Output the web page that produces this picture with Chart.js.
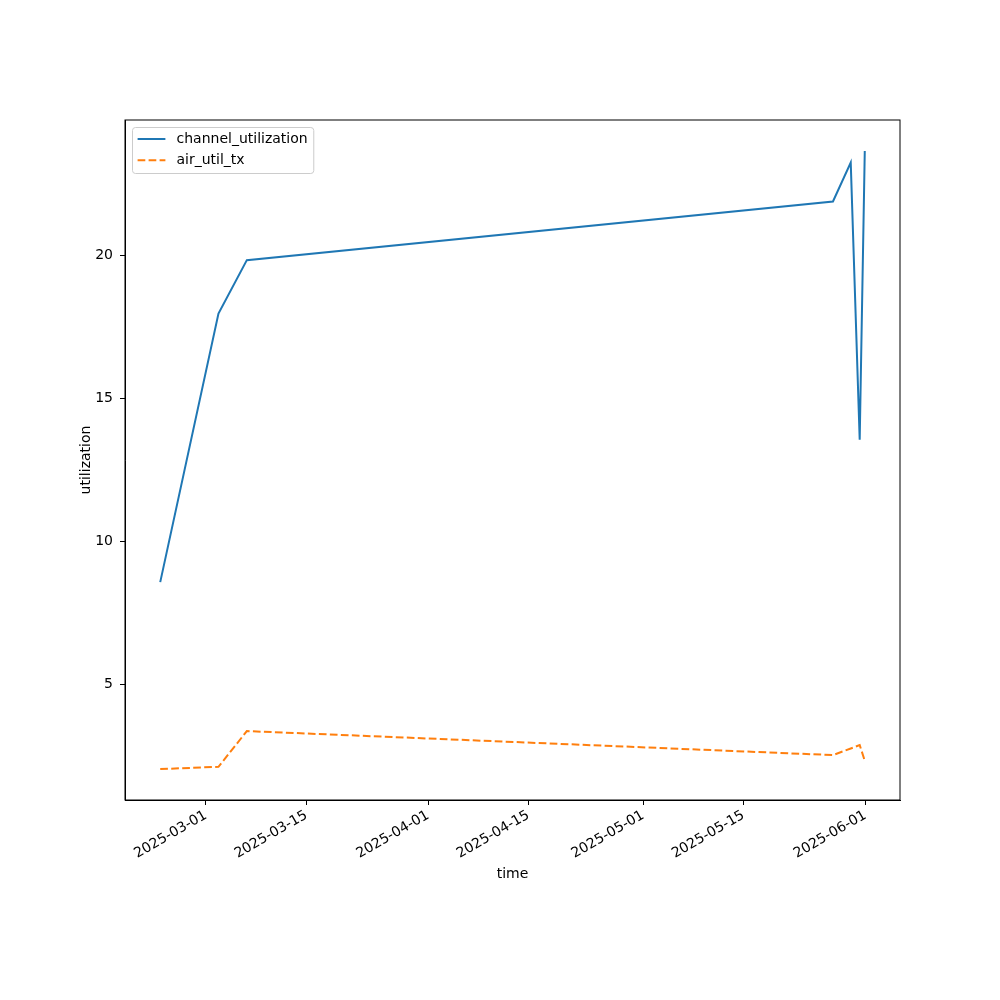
<!DOCTYPE html>
<html>
<head>
<meta charset="utf-8">
<script src="https://cdn.jsdelivr.net/npm/chart.js@4.4.1/dist/chart.umd.min.js"></script>
<style>
  body { margin: 0; background: #fff; }
</style>
</head>
<body>
<canvas id="myChart" width="1000" height="1000"></canvas>
<script>
// sample times (UTC) and readings
const times = ["2025-02-22T15:00", "2025-03-02T18:00", "2025-03-06T17:00", "2025-05-27T11:30", "2025-05-29T23:00", "2025-05-31T05:00", "2025-05-31T22:00"];
const channelUtil = [8.57, 17.96, 19.83, 21.88, 23.24, 13.55, 23.65];
const airUtilTx = [2.03, 2.11, 3.36, 2.52, 2.75, 2.87, 2.32];
const xTickDates = ["2025-03-01", "2025-03-15", "2025-04-01", "2025-04-15", "2025-05-01", "2025-05-15", "2025-06-01"];
const yTicks = [5, 10, 15, 20];

let toMs = (s) => Date.parse(s.length > 10 ? s + ":00Z" : s + "T00:00:00Z");
let xs = times.map(toMs);

// matplotlib style 5% margins
let xMinD = Math.min(...xs), xMaxD = Math.max(...xs);
let xPad = (xMaxD - xMinD) * 0.05;
let allY = channelUtil.concat(airUtilTx);
let yMinD = Math.min(...allY), yMaxD = Math.max(...allY);
let yPad = (yMaxD - yMinD) * 0.05;

const font = { family: "DejaVu Sans", size: 14 };
Chart.defaults.color = "#000";
Chart.defaults.font.family = "DejaVu Sans";

const boxLegend = {
  id: "boxLegend",
  afterDatasetsDraw(chart) {
    const ctx = chart.ctx;
    const area = chart.chartArea;
    ctx.save();
    // axes frame
    ctx.strokeStyle = "#000";
    ctx.lineWidth = 1;
    ctx.strokeRect(area.left, area.top, area.right - area.left, area.bottom - area.top);

    // legend box, upper left
    ctx.font = "14px 'DejaVu Sans'";
    let sets = chart.data.datasets;
    let tw = Math.max(...sets.map((d) => ctx.measureText(d.label).width));
    let x0 = area.left + 7, y0 = area.top + 7;
    let w = 5.6 + 27.8 + 11.1 + tw + 5.6, h = 46;
    ctx.beginPath();
    ctx.roundRect(x0 + 0.5, y0 + 0.5, w, h, 3);
    ctx.fillStyle = "rgba(255,255,255,0.8)";
    ctx.fill();
    ctx.strokeStyle = "#cccccc";
    ctx.stroke();

    sets.forEach((d, i) => {
      let cy = y0 + 12 + i * 21.3;
      ctx.beginPath();
      ctx.setLineDash(d.borderDash || []);
      ctx.strokeStyle = d.borderColor;
      ctx.lineWidth = d.borderWidth;
      ctx.moveTo(x0 + 5.6, cy);
      ctx.lineTo(x0 + 5.6 + 27.8, cy);
      ctx.stroke();
      ctx.setLineDash([]);
      ctx.fillStyle = "#000";
      ctx.textBaseline = "middle";
      ctx.fillText(d.label, x0 + 5.6 + 27.8 + 11.1, cy);
    });
    ctx.restore();
  },
};

let chart1 = document.getElementById("myChart").getContext("2d");
const myChart = new Chart(chart1, {
  type: "line",
  data: {
    datasets: [
      {
        label: "channel_utilization",
        data: xs.map((x, i) => ({ x: x, y: channelUtil[i] })),
        borderColor: "#1f77b4",
        borderWidth: 2,
        pointRadius: 0,
        tension: 0,
        fill: false,
      },
      {
        label: "air_util_tx",
        data: xs.map((x, i) => ({ x: x, y: airUtilTx[i] })),
        borderColor: "#ff7f0e",
        borderWidth: 2,
        borderDash: [7.7, 3.3],
        pointRadius: 0,
        tension: 0,
        fill: false,
      },
    ],
  },
  options: {
    responsive: false,
    animation: false,
    layout: {
      padding: { left: 74, right: 100, top: 120, bottom: 113 },
    },
    plugins: {
      legend: { display: false },
      tooltip: { enabled: false },
    },
    scales: {
      x: {
        type: "linear",
        min: xMinD - xPad,
        max: xMaxD + xPad,
        afterBuildTicks: (scale) => {
          scale.ticks = xTickDates.map((d) => ({ value: toMs(d) }));
        },
        afterFit: (scale) => {
          scale.height = 1000 - 113 - 800;
        },
        grid: { drawOnChartArea: false, color: "#000", tickLength: 5 },
        border: { color: "#000", width: 1 },
        ticks: {
          minRotation: 30,
          maxRotation: 30,
          autoSkip: false,
          padding: 2,
          font: font,
          callback: (v) => new Date(v).toISOString().slice(0, 10),
        },
        title: { display: true, text: "time", font: font, padding: { top: 0, bottom: 4 } },
      },
      y: {
        type: "linear",
        min: yMinD - yPad,
        max: yMaxD + yPad,
        afterBuildTicks: (scale) => {
          scale.ticks = yTicks.map((v) => ({ value: v }));
        },
        afterFit: (scale) => {
          scale.width = 125 - 74;
        },
        grid: { drawOnChartArea: false, color: "#000", tickLength: 5 },
        border: { color: "#000", width: 1 },
        ticks: { padding: 7, font: font },
        title: { display: true, text: "utilization", font: font, padding: { top: 4, bottom: 0 } },
      },
    },
  },
  plugins: [boxLegend],
});
</script>
</body>
</html>
